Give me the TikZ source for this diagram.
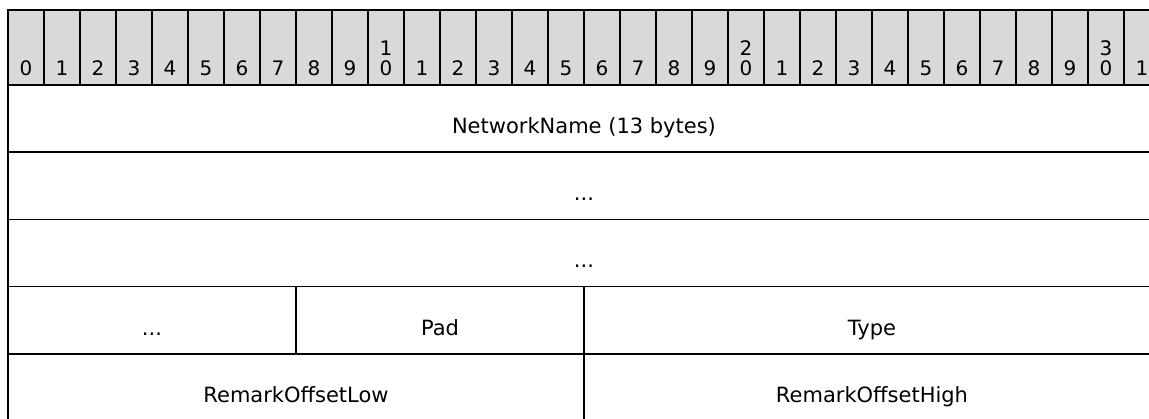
\documentclass[tikz,border=0pt]{standalone}
\usepackage{fontspec}
\setmainfont{DejaVu Sans}
\begin{document}
\begin{tikzpicture}[x=1pt,y=-1pt,
  hdr/.style={draw, line width=1.2pt, fill=gray!30, minimum width=36pt, minimum height=75pt, inner sep=0pt, outer sep=0pt, anchor=north west},
  field/.style={draw, line width=1.5pt, inner sep=0pt, outer sep=0pt, anchor=north west, minimum height=67.2pt},
  lbl/.style={font=\fontsize{21}{25}\selectfont, anchor=base, inner sep=0pt},
  dig/.style={font=\fontsize{20}{24}\selectfont, anchor=base, inner sep=0pt}]
\useasboundingbox (0,0) rectangle (1149,418);
\clip (0,0) rectangle (1149,418);
% header
\foreach \i in {0,...,31} {
  \node[hdr] (h\i) at ({8+36*\i},10) {};
  \pgfmathtruncatemacro{\d}{mod(\i,10)}
  \pgfmathtruncatemacro{\t}{int(\i/10)}
  \ifnum\i>9
    \ifnum\d=0
      \node[dig] (ht\i) at ([yshift=-45pt]h\i.north) {\t};
    \fi
  \fi
  \node[dig] (hd\i) at ([yshift=-65.5pt]h\i.north) {\d};
}
% rows
\node[field, minimum width=1152pt] (f1) at (8,85) {};
\node[field, minimum width=1152pt] (f2) at (8,152.2) {};
\node[field, minimum width=1152pt] (f3) at (8,219.4) {};
\node[field, minimum width=288pt] (f4) at (8,286.6) {};
\node[field, minimum width=288pt] (f5) at (296,286.6) {};
\node[field, minimum width=576pt] (f6) at (584,286.6) {};
\node[field, minimum width=576pt] (f7) at (8,353.8) {};
\node[field, minimum width=576pt] (f8) at (584,353.8) {};
% labels
\node[lbl] (t1) at ([yshift=-48.5pt]f1.north) {NetworkName (13 bytes)};
\node[lbl] (t2) at ([yshift=-48.5pt]f2.north) {...};
\node[lbl] (t3) at ([yshift=-48.5pt]f3.north) {...};
\node[lbl] (t4) at ([yshift=-48.5pt]f4.north) {...};
\node[lbl] (t5) at ([yshift=-48.5pt]f5.north) {Pad};
\node[lbl] (t6) at ([yshift=-48.5pt]f6.north) {Type};
\node[lbl] (t7) at ([yshift=-48.5pt]f7.north) {RemarkOffsetLow};
\node[lbl] (t8) at ([yshift=-48.5pt]f8.north) {RemarkOffsetHigh};
\end{tikzpicture}
\end{document}
